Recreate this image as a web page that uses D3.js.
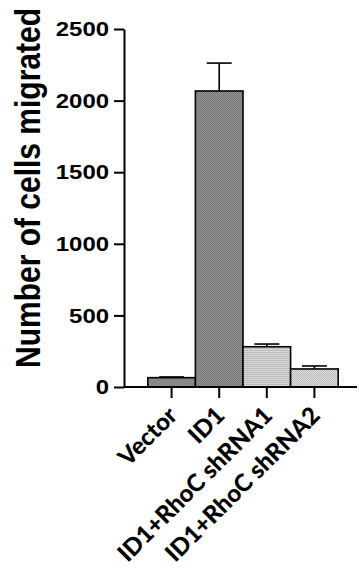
<!DOCTYPE html>
<html>
<head>
<meta charset="utf-8">
<script src="https://cdn.jsdelivr.net/npm/d3@7"></script>
<style>
  html, body { margin: 0; padding: 0; background: #fff; }
  svg { display: block; font-family: "Liberation Sans", Arial, sans-serif; }
</style>
</head>
<body>
<svg id="chart" width="359" height="576"></svg>
<script>
const categories = ['Vector', 'ID1', 'ID1+RhoC shRNA1', 'ID1+RhoC shRNA2']
const means = [65, 2067, 281, 126]
const errors = [5, 195, 19, 21]
const yTicks = [0, 500, 1000, 1500, 2000, 2500]
const fills = ['url(#pVector)', 'url(#pID1)', 'url(#pSh1)', 'url(#pSh2)']

// the original figure is a bit wider than tall, so axis text gets a horizontal stretch
const stretch = 1.14

const svg = d3.select('#chart')

// fill textures
const defs = svg.append('defs')
const checker = (id, a, b) => {
  const p = defs.append('pattern').attr('id', id)
    .attr('width', 2).attr('height', 2).attr('patternUnits', 'userSpaceOnUse')
  p.append('rect').attr('width', 2).attr('height', 2).attr('fill', a)
  p.append('rect').attr('width', 1).attr('height', 1).attr('fill', b)
  p.append('rect').attr('x', 1).attr('y', 1).attr('width', 1).attr('height', 1).attr('fill', b)
}
checker('pVector', '#8e8e8e', '#828282')
checker('pID1', '#9a9a9a', '#707070')
checker('pSh2', '#e0e0e0', '#b8b8b8')
const lines = defs.append('pattern').attr('id', 'pSh1')
  .attr('width', 2).attr('height', 2).attr('patternUnits', 'userSpaceOnUse')
lines.append('rect').attr('width', 2).attr('height', 2).attr('fill', '#d8d8d8')
lines.append('rect').attr('width', 2).attr('height', 1).attr('fill', '#bcbcbc')

const x = d3.scaleBand().domain(categories).range([124, 362])
  .paddingInner(0).paddingOuter(0.5)
const y = d3.scaleLinear().domain([0, 2500]).range([387, 29])

// y axis
const yAxis = svg.append('g')
  .attr('transform', 'translate(124,0)')
  .call(d3.axisLeft(y).tickValues(yTicks).tickFormat(d3.format('d'))
    .tickSize(10).tickSizeOuter(0))
yAxis.select('.domain').attr('stroke-width', 2)
yAxis.selectAll('.tick line').attr('stroke-width', 2)
yAxis.selectAll('.tick text')
  .attr('x', 0)
  .attr('transform', `translate(-15,0) scale(${stretch},1)`)
  .attr('font-size', 21).attr('font-weight', 'bold').attr('fill', '#000')
  .attr('font-family', '"Liberation Sans", Arial, sans-serif')

// bars
svg.append('g').selectAll('rect')
  .data(categories)
  .join('rect')
  .attr('x', d => x(d))
  .attr('y', (d, i) => y(means[i]))
  .attr('width', x.bandwidth())
  .attr('height', (d, i) => y(0) - y(means[i]))
  .attr('fill', (d, i) => fills[i])
  .attr('stroke', '#000')
  .attr('stroke-width', 1.6)

// error bars (upper only)
const eb = svg.append('g').attr('stroke', '#000').attr('stroke-width', 1.6)
categories.forEach((c, i) => {
  const cx = x(c) + x.bandwidth() / 2
  eb.append('line').attr('x1', cx).attr('x2', cx)
    .attr('y1', y(means[i])).attr('y2', y(means[i] + errors[i]))
  eb.append('line').attr('x1', cx - 12.5).attr('x2', cx + 12.5)
    .attr('y1', y(means[i] + errors[i])).attr('y2', y(means[i] + errors[i]))
})

// x axis
const xAxis = svg.append('g')
  .attr('transform', `translate(0,${y(0)})`)
  .call(d3.axisBottom(x).tickSize(11).tickSizeOuter(0).tickFormat(''))
xAxis.select('.domain').attr('d', 'M124,0H357').attr('stroke-width', 2)
xAxis.selectAll('.tick line').attr('stroke-width', 2)

svg.append('g').selectAll('text')
  .data(categories)
  .join('text')
  .attr('transform', d => `translate(${x(d) + x.bandwidth() / 2 + 7},${y(0) + 30}) rotate(-45)`)
  .attr('text-anchor', 'end')
  .attr('font-family', 'Lato, "Open Sans", sans-serif')
  .attr('font-size', 24)
  .attr('font-weight', 900)
  .text(d => d)

// y label
svg.append('text')
  .attr('transform', `translate(40,188) scale(${stretch},1) rotate(-90)`)
  .attr('text-anchor', 'middle')
  .attr('font-size', 30)
  .attr('font-weight', 'bold')
  .text('Number of cells migrated')
</script>
</body>
</html>
